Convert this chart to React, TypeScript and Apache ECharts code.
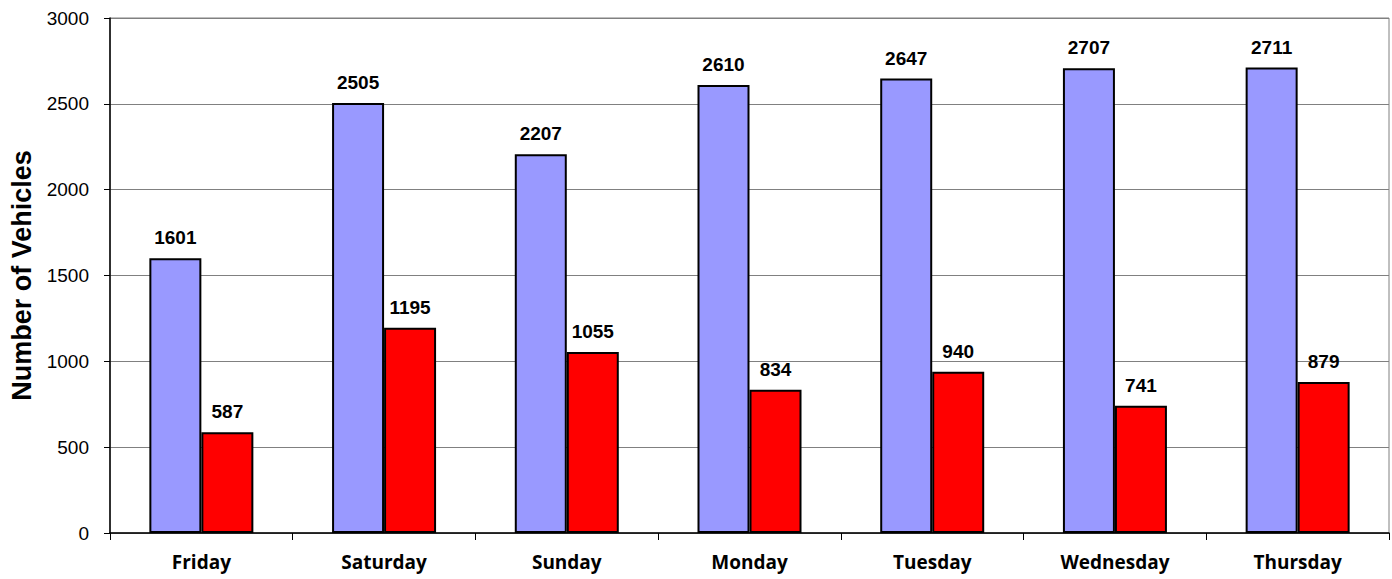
import React, { useEffect, useRef } from "react";
import * as echarts from "echarts";

const days = ["Friday", "Saturday", "Sunday", "Monday", "Tuesday", "Wednesday", "Thursday"];
const seriesA = [1601, 2505, 2207, 2610, 2647, 2707, 2711];
const seriesB = [587, 1195, 1055, 834, 940, 741, 879];
const yTitle = "Number of Vehicles";

export default function App() {
  const ref = useRef<HTMLDivElement>(null);
  useEffect(() => {
    const chart = echarts.init(ref.current!, null, { renderer: "svg" });
    const labelStyle = {
      show: true,
      position: "top",
      distance: 11,
      fontFamily: "Liberation Sans, Arial, sans-serif",
      fontWeight: "bold",
      fontSize: 19,
      color: "#000",
    };
    chart.setOption({
      animation: false,
      backgroundColor: "#fff",
      grid: {
        left: 110,
        right: 3,
        top: 18,
        bottom: 46,
        show: true,
        borderColor: "#808080",
        borderWidth: 1,
      },
      xAxis: {
        type: "category",
        data: days,
        axisLine: { lineStyle: { color: "#000", width: 1.5 } },
        axisTick: { show: true, length: 7, lineStyle: { color: "#000" } },
        axisLabel: {
          fontFamily: "Open Sans, Lato, sans-serif",
          fontWeight: "bold",
          fontSize: 19,
          color: "#000",
          margin: 19,
        },
      },
      yAxis: {
        type: "value",
        min: 0,
        max: 3000,
        interval: 500,
        name: yTitle,
        nameLocation: "middle",
        nameGap: 75,
        nameTextStyle: {
          fontFamily: "Liberation Sans, Arial, sans-serif",
          fontWeight: "bold",
          fontSize: 27,
          color: "#000",
        },
        axisLine: { show: true, lineStyle: { color: "#000", width: 1.5 } },
        axisTick: { show: true, length: 6, lineStyle: { color: "#000" } },
        axisLabel: {
          fontFamily: "Liberation Sans, Arial, sans-serif",
          fontSize: 19,
          color: "#000",
          margin: 21,
          formatter: (v: number) => String(v),
        },
        splitLine: { lineStyle: { color: "#808080", width: 1 } },
      },
      series: [
        {
          type: "bar",
          data: seriesA,
          barWidth: 52,
          barGap: "0%",
          itemStyle: { color: "#9999FF", borderColor: "#000", borderWidth: 2 },
          label: labelStyle,
        },
        {
          type: "bar",
          data: seriesB,
          barWidth: 52,
          itemStyle: { color: "#FF0000", borderColor: "#000", borderWidth: 2 },
          label: labelStyle,
        },
      ],
    });
    return () => chart.dispose();
  }, []);
  return <div ref={ref} style={{ width: 1392, height: 579, position: "absolute", left: 0, top: 0 }} />;
}
